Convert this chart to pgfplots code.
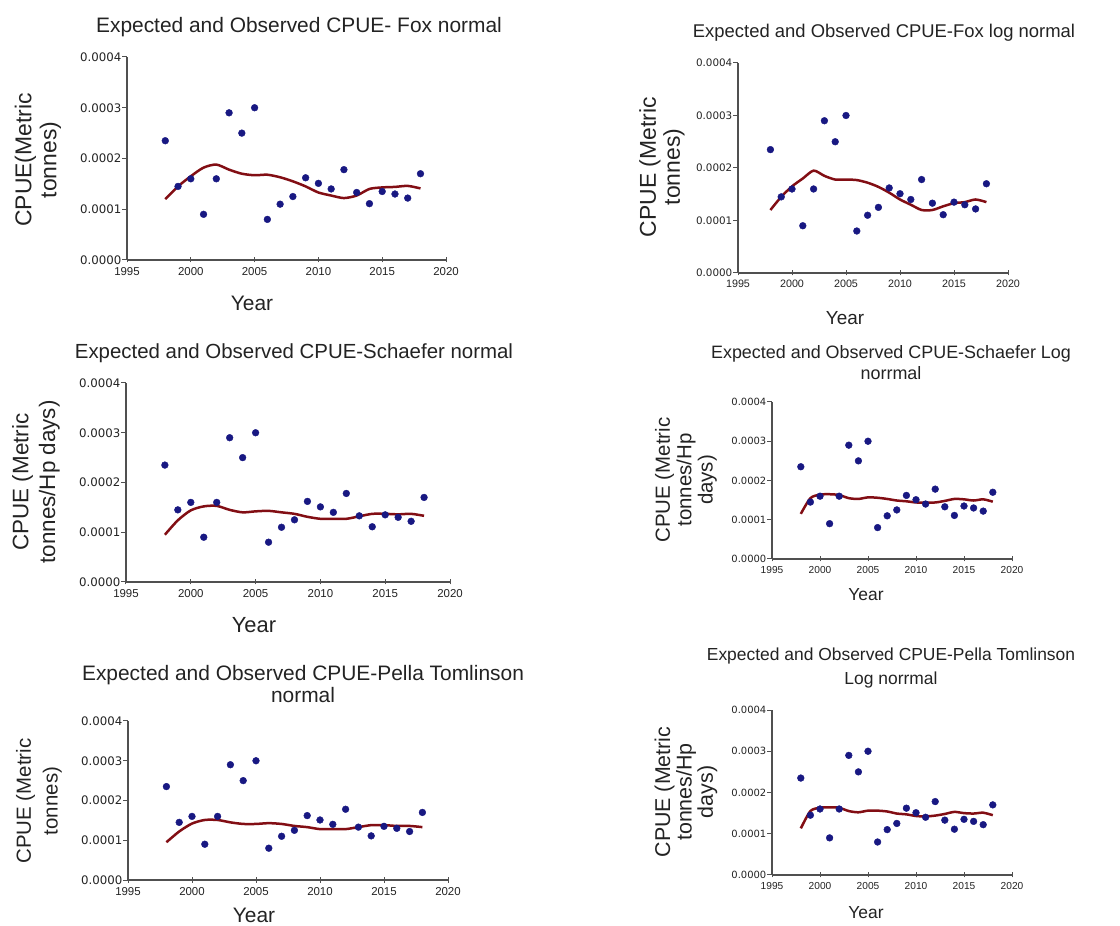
\documentclass[border=0pt]{standalone}
\usepackage{fontspec}
\setmainfont{Liberation Sans}
\newfontfamily\tickfont{DejaVu Sans}
\usepackage{pgfplots}
\usepackage{pgfplotstable}
\pgfplotsset{compat=1.18}
\definecolor{obsblue}{RGB}{24,24,130}
\definecolor{expred}{RGB}{130,14,20}
\definecolor{axgray}{RGB}{80,80,80}
\definecolor{txt}{RGB}{35,35,35}

% observed CPUE and the expected curve of each model
\pgfplotstableread{
year obs      fox      foxlog   sch      schlog   pel      pellog
1998 0.000235 0.000120 0.000120 0.000095 0.000115 0.000095 0.000113
1999 0.000145 0.000145 0.000145 0.000124 0.000155 0.000122 0.000155
2000 0.000160 0.000165 0.000165 0.000144 0.000164 0.000142 0.000163
2001 0.000090 0.000182 0.000180 0.000152 0.000165 0.000151 0.000164
2002 0.000160 0.000188 0.000195 0.000153 0.000163 0.000151 0.000163
2003 0.000290 0.000178 0.000185 0.000145 0.000155 0.000145 0.000155
2004 0.000250 0.000170 0.000178 0.000140 0.000153 0.000141 0.000152
2005 0.000300 0.000167 0.000178 0.000142 0.000157 0.000141 0.000156
2006 0.000080 0.000168 0.000177 0.000143 0.000156 0.000143 0.000156
2007 0.000110 0.000163 0.000172 0.000140 0.000153 0.000141 0.000154
2008 0.000125 0.000155 0.000164 0.000137 0.000149 0.000136 0.000149
2009 0.000162 0.000145 0.000153 0.000131 0.000147 0.000133 0.000147
2010 0.000151 0.000133 0.000140 0.000127 0.000144 0.000128 0.000143
2011 0.000140 0.000127 0.000130 0.000127 0.000144 0.000128 0.000142
2012 0.000178 0.000122 0.000120 0.000127 0.000144 0.000128 0.000144
2013 0.000133 0.000127 0.000120 0.000132 0.000148 0.000133 0.000148
2014 0.000111 0.000140 0.000127 0.000137 0.000153 0.000138 0.000153
2015 0.000135 0.000143 0.000133 0.000137 0.000152 0.000138 0.000150
2016 0.000130 0.000144 0.000135 0.000136 0.000149 0.000136 0.000149
2017 0.000122 0.000146 0.000140 0.000137 0.000152 0.000136 0.000151
2018 0.000170 0.000141 0.000135 0.000133 0.000146 0.000133 0.000145
}\cpue

\pgfplotsset{
  cpue/.style={
    scale only axis, anchor=south west,
    xmin=1995, xmax=2020, ymin=0, ymax=0.0004,
    axis lines*=left,
    axis line style={axgray, line width=1.2bp},
    every tick/.style={axgray, line width=1bp},
    major tick length=5bp,
    xtick={1995,2000,...,2020},
    ytick={0,0.0001,...,0.0004},
    xtick align=center, ytick align=outside,
    scaled y ticks=false,
    tick label style={text=txt, /pgf/number format/assume math mode=true},
    x tick label style={/pgf/number format/set thousands separator={}, inner sep=1.5bp, yshift=-3bp},
    y tick label style={/pgf/number format/fixed, /pgf/number format/fixed zerofill,
      /pgf/number format/precision=4, inner sep=0.5bp},
    clip=false,
  },
  % tick fonts: x size, y size
  tf/.style 2 args={
    x tick label style={font=\fontsize{#1}{#1}\selectfont},
    y tick label style={font=\tickfont\fontsize{#2}{#2}\selectfont},
  },
  obs/.style={only marks, mark=*, mark size=3.4bp, color=obsblue},
  expd/.style={expred, line width=2.5bp, smooth, tension=0.45, no marks},
}

\begin{document}
\begin{tikzpicture}[every node/.style={inner sep=1bp}]
\useasboundingbox (0,0) rectangle (1120bp,926bp);

% ---- Fox normal
\begin{axis}[cpue, at={(127bp,666bp)}, width=319bp, height=203bp, tf={11.5}{11.8}]
\addplot[expd] table[x=year, y=fox] {\cpue};
\addplot[obs] table[x=year, y=obs] {\cpue};
\end{axis}
\node[txt, font=\fontsize{21}{24}\selectfont] at (299bp,899bp) {Expected and Observed CPUE- Fox normal};
\node[txt, rotate=90, align=center, font=\fontsize{23}{25}\selectfont] at (38bp,766bp) {CPUE(Metric\\tonnes)};
\node[txt, font=\fontsize{21}{24}\selectfont] at (252bp,623bp) {Year};

% ---- Fox log normal
\begin{axis}[cpue, at={(738bp,653bp)}, width=270bp, height=210bp, tf={10.8}{10.4}]
\addplot[expd] table[x=year, y=foxlog] {\cpue};
\addplot[obs] table[x=year, y=obs] {\cpue};
\end{axis}
\node[txt, font=\fontsize{18.5}{21}\selectfont] at (884bp,893bp) {Expected and Observed CPUE-Fox log normal};
\node[txt, rotate=90, align=center, font=\fontsize{23}{24}\selectfont] at (662bp,759bp) {CPUE (Metric\\tonnes)};
\node[txt, font=\fontsize{19}{22}\selectfont] at (845bp,608bp) {Year};

% ---- Schaefer normal
\begin{axis}[cpue, at={(126bp,344bp)}, width=324bp, height=199bp, tf={11.5}{11.8}]
\addplot[expd] table[x=year, y=sch] {\cpue};
\addplot[obs] table[x=year, y=obs] {\cpue};
\end{axis}
\node[txt, font=\fontsize{20.5}{24}\selectfont] at (294bp,573bp) {Expected and Observed CPUE-Schaefer normal};
\node[txt, rotate=90, align=center, font=\fontsize{22.5}{27}\selectfont] at (36bp,444bp) {CPUE (Metric\\tonnes/Hp days)};
\node[txt, font=\fontsize{22}{24}\selectfont] at (254bp,301bp) {Year};

% ---- Schaefer log normal
\begin{axis}[cpue, at={(772bp,367bp)}, width=240bp, height=157bp, tf={10.2}{10}]
\addplot[expd] table[x=year, y=schlog] {\cpue};
\addplot[obs] table[x=year, y=obs] {\cpue};
\end{axis}
\node[txt, align=center, font=\fontsize{18}{21}\selectfont] at (891bp,563bp) {Expected and Observed CPUE-Schaefer Log\\norrmal};
\node[txt, rotate=90, align=center, font=\fontsize{20.5}{21.5}\selectfont] at (686bp,446bp) {CPUE (Metric\\tonnes/Hp\\days)};
\node[txt, font=\fontsize{17.5}{20}\selectfont] at (866bp,331bp) {Year};

% ---- Pella Tomlinson normal
\begin{axis}[cpue, at={(128bp,46bp)}, width=320bp, height=159bp, tf={11.5}{11.8}]
\addplot[expd] table[x=year, y=pel] {\cpue};
\addplot[obs] table[x=year, y=obs] {\cpue};
\end{axis}
\node[txt, align=center, font=\fontsize{21}{23}\selectfont] at (303bp,242bp) {Expected and Observed CPUE-Pella Tomlinson\\normal};
\node[txt, rotate=90, align=center, font=\fontsize{20.5}{27}\selectfont] at (39bp,125bp) {CPUE (Metric\\tonnes)};
\node[txt, font=\fontsize{21}{24}\selectfont, inner sep=0pt] at (254bp,11bp) {Year};

% ---- Pella Tomlinson log normal
\begin{axis}[cpue, at={(772bp,51bp)}, width=240bp, height=165bp, tf={10.2}{10}]
\addplot[expd] table[x=year, y=pellog] {\cpue};
\addplot[obs] table[x=year, y=obs] {\cpue};
\end{axis}
\node[txt, align=center, font=\fontsize{17.5}{24}\selectfont] at (891bp,258bp) {Expected and Observed CPUE-Pella Tomlinson\\Log norrmal};
\node[txt, rotate=90, align=center, font=\fontsize{21.5}{21.5}\selectfont] at (686bp,134bp) {CPUE (Metric\\tonnes/Hp\\days)};
\node[txt, font=\fontsize{17.5}{20}\selectfont, inner sep=0pt] at (866bp,13bp) {Year};
\end{tikzpicture}
\end{document}
